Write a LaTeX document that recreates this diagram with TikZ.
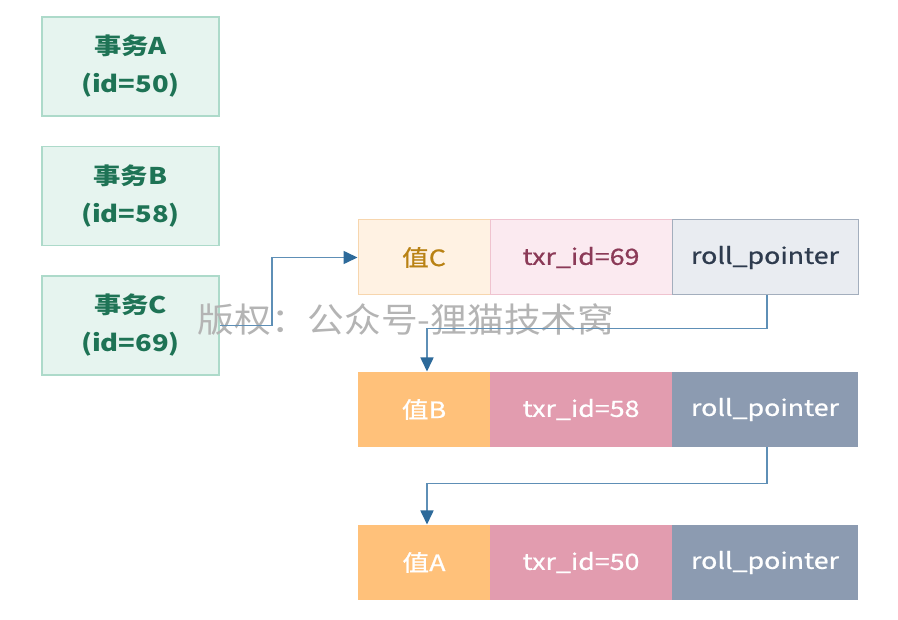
\documentclass[tikz,border=0pt]{standalone}
\usepackage{fontspec}
\setmainfont{Noto Sans CJK SC}
\newfontfamily\medfont[FakeBold=0.7]{Noto Sans CJK SC}
\usetikzlibrary{arrows.meta}
\newcommand{\wx}[1]{\scalebox{1.19}[1]{#1}}
\definecolor{txfill}{HTML}{E6F4EF}
\definecolor{txdraw}{HTML}{ADDACA}
\definecolor{txtext}{HTML}{1E7355}
\definecolor{oL}{HTML}{FFF2E3}
\definecolor{oLd}{HTML}{F7D6AE}
\definecolor{pL}{HTML}{FBEAF0}
\definecolor{pLd}{HTML}{EFC3CF}
\definecolor{gL}{HTML}{E9ECF1}
\definecolor{gLd}{HTML}{A3AEBD}
\definecolor{oD}{HTML}{FFC17A}
\definecolor{pD}{HTML}{E29CAF}
\definecolor{gD}{HTML}{8C9BB1}
\definecolor{oT}{HTML}{B98214}
\definecolor{pT}{HTML}{8B3A57}
\definecolor{gT}{HTML}{2E3B4E}
\definecolor{arr}{HTML}{5E8FB6}
\definecolor{arrhead}{HTML}{2D6A9A}
\definecolor{wm}{HTML}{B4B4B4}
\begin{document}
\begin{tikzpicture}[x=1pt,y=-1pt,
  txbox/.style={draw=txdraw,fill=txfill,line width=1.2pt,minimum width=177pt,minimum height=99pt,inner sep=0pt,align=center,text=txtext,font=\fontsize{23}{38}\selectfont\bfseries},
  cell/.style={minimum height=75pt,inner sep=0pt,font=\fontsize{22.5}{26}\medfont,line width=1pt},
  cv/.style={cell,minimum width=132pt},
  ct/.style={cell,minimum width=182pt},
  cr/.style={cell,minimum width=186pt},
  link/.style={draw=arr,line width=1.6pt,-{Triangle[length=14pt,width=13pt,color=arrhead]}}
]
\useasboundingbox (0,0) rectangle (898,620);
\fill[white] (0,0) rectangle (898,620);
% transactions
\node[txbox] (ta) at (130.5,66.5) {\wx{事务A}\\\wx{(id=50)}};
\node[txbox] (tb) at (130.5,196) {\wx{事务B}\\\wx{(id=58)}};
\node[txbox] (tc) at (130.5,325.5) {\wx{事务C}\\\wx{(id=69)}};
% row C
\node[cv,draw=oLd,fill=oL,text=oT] (vc) at (424,257.5) {\wx{值C}};
\node[ct,draw=pLd,fill=pL,text=pT] (ic) at (581,257.5) {\wx{txr\_id=69}};
\node[cr,draw=gLd,fill=gL,text=gT] (rc) at (765,257.5) {\wx{roll\_pointer}};
% row B
\node[cv,fill=oD,text=white] (vb) at (424,409.5) {\wx{值B}};
\node[ct,fill=pD,text=white] (ib) at (581,409.5) {\wx{txr\_id=58}};
\node[cr,fill=gD,text=white] (rb) at (765,409.5) {\wx{roll\_pointer}};
% row A
\node[cv,fill=oD,text=white] (va) at (424,562.5) {\wx{值A}};
\node[ct,fill=pD,text=white] (ia) at (581,562.5) {\wx{txr\_id=50}};
\node[cr,fill=gD,text=white] (ra) at (765,562.5) {\wx{roll\_pointer}};
% watermark
\node[text=wm,font=\fontsize{34}{34}\selectfont,inner sep=0pt] (wmark) at (406,320) {\scalebox{1.08}[1]{版权：公众号-狸猫技术窝}};
% connectors
\coordinate (k1) at (272,325.5);
\coordinate (k2) at (272,257.5);
\draw[link] (tc.east) -- (k1) -- (k2) -- (vc.west);
\draw[link] ([xshift=2pt]rc.south) -- ++(0,33) -| ([xshift=3pt]vb.north);
\draw[link] ([xshift=2pt]rb.south) -- ++(0,36) -| ([xshift=3pt]va.north);
\end{tikzpicture}
\end{document}
